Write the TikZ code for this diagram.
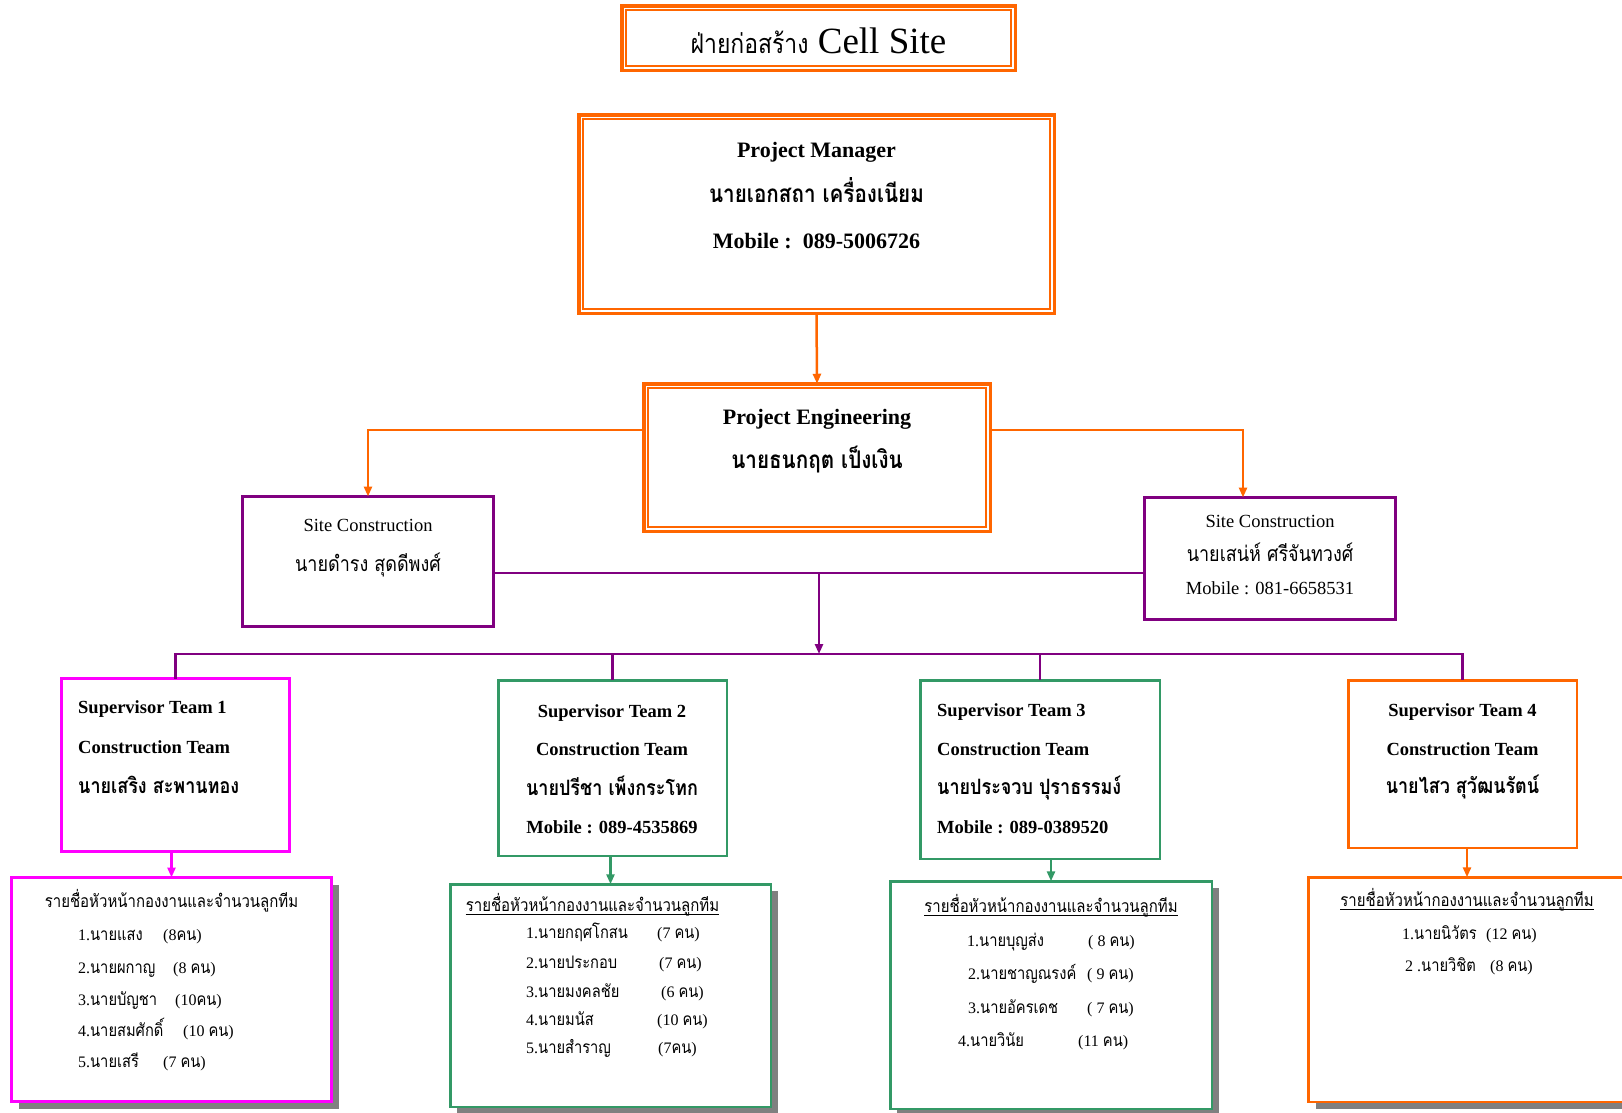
\documentclass[tikz,border=0pt]{standalone}
\usepackage{fontspec}
\setmainfont{Liberation Serif}
\newfontfamily\thai[Script=Thai,FakeStretch=0.85,Scale=1.08]{Loma}
\usetikzlibrary{arrows.meta,calc,shadows}
\definecolor{oc}{RGB}{255,102,0}
\definecolor{pc}{RGB}{128,0,128}
\definecolor{mc}{RGB}{255,0,255}
\definecolor{gc}{RGB}{51,153,102}
\definecolor{shc}{RGB}{128,128,128}
\newcommand\setfs[1]{\fontsize{#1}{#1}\selectfont}
\begin{document}
\begin{tikzpicture}[x=1pt,y=-1pt,
  box/.style={draw, inner sep=0, outer sep=0},
  obox/.style={box, draw=oc, line width=3.5},
  pbox/.style={box, draw=pc, line width=3},
  mbox/.style={box, draw=mc, line width=3},
  gbox/.style={box, draw=gc, line width=2.5},
  o2box/.style={box, draw=oc, line width=2.5},
  shad/.style={fill=white, drop shadow={shadow xshift=7pt, shadow yshift=-7pt, fill=shc, opacity=1}},
  tip/.style={-{Triangle[length=10pt,width=8pt]}},
  oarr/.style={draw=oc, line width=2.5, tip},
  parr/.style={draw=pc, line width=2.5, tip},
  marr/.style={draw=mc, line width=2.5, tip},
  garr/.style={draw=gc, line width=2.5, tip},
  pl/.style={draw=pc, line width=2.5},
  hb/.style={font=\setfs{22}\bfseries, anchor=base, inner sep=0},
  hbt/.style={font=\setfs{22.5}\bfseries, anchor=base, inner sep=0},
  sr/.style={font=\setfs{18.5}, anchor=base, inner sep=0},
  srt/.style={font=\setfs{19.6}, anchor=base, inner sep=0},
  sb/.style={font=\setfs{18.5}\bfseries, anchor=base, inner sep=0},
  sbt/.style={font=\setfs{19.6}\bfseries, anchor=base, inner sep=0},
  sbl/.style={font=\setfs{18.5}\bfseries, anchor=base west, inner sep=0},
  sblt/.style={font=\setfs{19.6}\bfseries, anchor=base west, inner sep=0},
  lc/.style={font=\setfs{16.3}, anchor=base, inner sep=0},
  lt/.style={font=\setfs{16}, anchor=base west, inner sep=0},
  ul/.style={line width=1}
]
\useasboundingbox[fill=white] (0,0) rectangle (1622,1112);

% ---------- boxes ----------
\node[obox, minimum width=393.5, minimum height=64.5] (ttl) at (818.5,38) {};
\draw[oc, line width=2] ($(ttl.north west)+(4.5,4.5)$) rectangle ($(ttl.south east)+(-4.5,-4.5)$);
\node[obox, minimum width=475.5, minimum height=198.5] (pm) at (816.5,214) {};
\draw[oc, line width=2] ($(pm.north west)+(4.5,4.5)$) rectangle ($(pm.south east)+(-4.5,-4.5)$);
\node[obox, minimum width=346.5, minimum height=147.5] (pe) at (817,457.5) {};
\draw[oc, line width=2] ($(pe.north west)+(4.5,4.5)$) rectangle ($(pe.south east)+(-4.5,-4.5)$);

\node[pbox, minimum width=251, minimum height=130] (scl) at (368,561.5) {};
\node[pbox, minimum width=251, minimum height=122] (scr) at (1270,558.5) {};

\node[mbox, minimum width=228, minimum height=173] (t1) at (175.5,765) {};
\node[gbox, minimum width=228.5, minimum height=175.5] (t2) at (612.5,768) {};
\node[gbox, minimum width=239.5, minimum height=178.5] (t3) at (1040,769.5) {};
\node[o2box, minimum width=228.5, minimum height=167.5] (t4) at (1462.5,764) {};

\node[mbox, shad, minimum width=320, minimum height=224] (l1) at (171.5,989.5) {};
\node[gbox, shad, minimum width=320.5, minimum height=222.5] (l2) at (610.5,995.5) {};
\node[gbox, shad, minimum width=321.5, minimum height=227.5] (l3) at (1051,995) {};
\node[o2box, shad, minimum width=330, minimum height=224.5] (l4) at (1473.5,989.5) {};

% ---------- texts ----------
\node[anchor=base, inner sep=0, font=\setfs{37}] (ttxt) at (818.5,53) {{\thai\setfs{25}ฝ่ายก่อสร้าง} Cell Site};

\node[hb] (pm1) at (816.5,157) {Project Manager};
\node[hbt] (pm2) at (816.5,202) {\thai นายเอกสถา เครื่องเนียม};
\node[hb] (pm3) at (816.5,248) {Mobile :\ \ 089-5006726};

\node[hb] (pe1) at (817,424) {Project Engineering};
\node[hbt] (pe2) at (817,468) {\thai นายธนกฤต เป็งเงิน};

\node[sr] (sl1) at (368,531) {Site Construction};
\node[srt] (sl2) at (368,571) {\thai นายดำรง สุดดีพงศ์};

\node[sr] (sr1) at (1270,527) {Site Construction};
\node[srt] (sr2) at (1270,561) {\thai นายเสน่ห์ ศรีจันทวงศ์};
\node[sr] (sr3) at (1270,594) {Mobile : 081-6658531};

\node[sbl] (a1) at (78,713) {Supervisor Team 1};
\node[sbl] (a2) at (78,753) {Construction Team};
\node[sblt] (a3) at (78,793) {\thai นายเสริง สะพานทอง};

\node[sb] (b1) at (612,717) {Supervisor Team 2};
\node[sb] (b2) at (612,755) {Construction Team};
\node[sbt] (b3) at (612,795) {\thai นายปรีชา เพ็งกระโทก};
\node[sb] (b4) at (612,833) {Mobile : 089-4535869};

\node[sbl] (c1) at (937,716) {Supervisor Team 3};
\node[sbl] (c2) at (937,755) {Construction Team};
\node[sblt] (c3) at (937,794) {\thai นายประจวบ ปุราธรรมง์};
\node[sbl] (c4) at (937,833) {Mobile : 089-0389520};

\node[sb] (d1) at (1462.5,716) {Supervisor Team 4};
\node[sb] (d2) at (1462.5,755) {Construction Team};
\node[sbt] (d3) at (1462.5,793) {\thai นายไสว สุวัฒนรัตน์};

% list 1
\node[lc] (h1) at (171.5,907) {\thai รายชื่อหัวหน้ากองงานและจำนวนลูกทีม};
\node[lt] (e1) at (78,940) {1.{\thai นายแสง}};
\node[lt] (e1n) at (163,940) {(8{\thai คน})};
\node[lt] (e2) at (78,973) {2.{\thai นายผกาญ}};
\node[lt] (e2n) at (173,973) {(8 {\thai คน})};
\node[lt] (e3) at (78,1005) {3.{\thai นายบัญชา}};
\node[lt] (e3n) at (175,1005) {(10{\thai คน})};
\node[lt] (e4) at (78,1036) {4.{\thai นายสมศักดิ์}};
\node[lt] (e4n) at (183,1036) {(10 {\thai คน})};
\node[lt] (e5) at (78,1067) {5.{\thai นายเสรี}};
\node[lt] (e5n) at (163,1067) {(7 {\thai คน})};

% list 2
\node[lc] (h2) at (592.5,911) {\thai รายชื่อหัวหน้ากองงานและจำนวนลูกทีม};
\draw[ul] ($(h2.base west)+(0,3)$) -- ($(h2.base east)+(0,3)$);
\node[lt] (f1) at (526,938) {1.{\thai นายกฤศโกสน}};
\node[lt] (f1n) at (657,938) {(7 {\thai คน})};
\node[lt] (f2) at (526,968) {2.{\thai นายประกอบ}};
\node[lt] (f2n) at (659,968) {(7 {\thai คน})};
\node[lt] (f3) at (526,997) {3.{\thai นายมงคลชัย}};
\node[lt] (f3n) at (661,997) {(6 {\thai คน})};
\node[lt] (f4) at (526,1025) {4.{\thai นายมนัส}};
\node[lt] (f4n) at (657,1025) {(10 {\thai คน})};
\node[lt] (f5) at (526,1053) {5.{\thai นายสำราญ}};
\node[lt] (f5n) at (658,1053) {(7{\thai คน})};

% list 3
\node[lc] (h3) at (1051,912) {\thai รายชื่อหัวหน้ากองงานและจำนวนลูกทีม};
\draw[ul] ($(h3.base west)+(0,3)$) -- ($(h3.base east)+(0,3)$);
\node[lt] (g1) at (967,946) {1.{\thai นายบุญส่ง}};
\node[lt] (g1n) at (1088,946) {( 8 {\thai คน})};
\node[lt] (g2) at (968,979) {2.{\thai นายชาญณรงค์}};
\node[lt] (g2n) at (1087,979) {( 9 {\thai คน})};
\node[lt] (g3) at (968,1013) {3.{\thai นายอัครเดช}};
\node[lt] (g3n) at (1087,1013) {( 7 {\thai คน})};
\node[lt] (g4) at (958,1046) {4.{\thai นายวินัย}};
\node[lt] (g4n) at (1078,1046) {(11 {\thai คน})};

% list 4
\node[lc] (h4) at (1467,906) {\thai รายชื่อหัวหน้ากองงานและจำนวนลูกทีม};
\draw[ul] ($(h4.base west)+(0,3)$) -- ($(h4.base east)+(0,3)$);
\node[lt] (k1) at (1402,939) {1.{\thai นายนิวัตร}};
\node[lt] (k1n) at (1486,939) {(12 {\thai คน})};
\node[lt] (k2) at (1405,971) {2 .{\thai นายวิชิต}};
\node[lt] (k2n) at (1490,971) {(8 {\thai คน})};

% ---------- connectors ----------
\draw[oarr] (pm.south) -- (pe.north);
\coordinate (br) at (0,430);
\draw[oarr] (pe.west |- br) -| (scl.north);
\coordinate (srt) at (1243,0);
\draw[oarr] (pe.east |- br) -| (srt |- scr.north);

\coordinate (pj) at (819,573);
\coordinate (hub) at (819,654);
\draw[pl] (scl.east |- pj) -- (scr.west |- pj);
\draw[parr] (pj) -- (hub);
\draw[pl] (t1.north) |- (hub) -| (t4.north);
\draw[pl] (t2.north) -- (t2.north |- hub);
\draw[pl] (t3.north) -- (t3.north |- hub);

\draw[marr] (l1.north |- t1.south) -- (l1.north);
\draw[garr] (l2.north |- t2.south) -- (l2.north);
\draw[garr] (l3.north |- t3.south) -- (l3.north);
\coordinate (l4a) at (1467,0);
\draw[oarr] (l4a |- t4.south) -- (l4a |- l4.north);
\end{tikzpicture}
\end{document}
